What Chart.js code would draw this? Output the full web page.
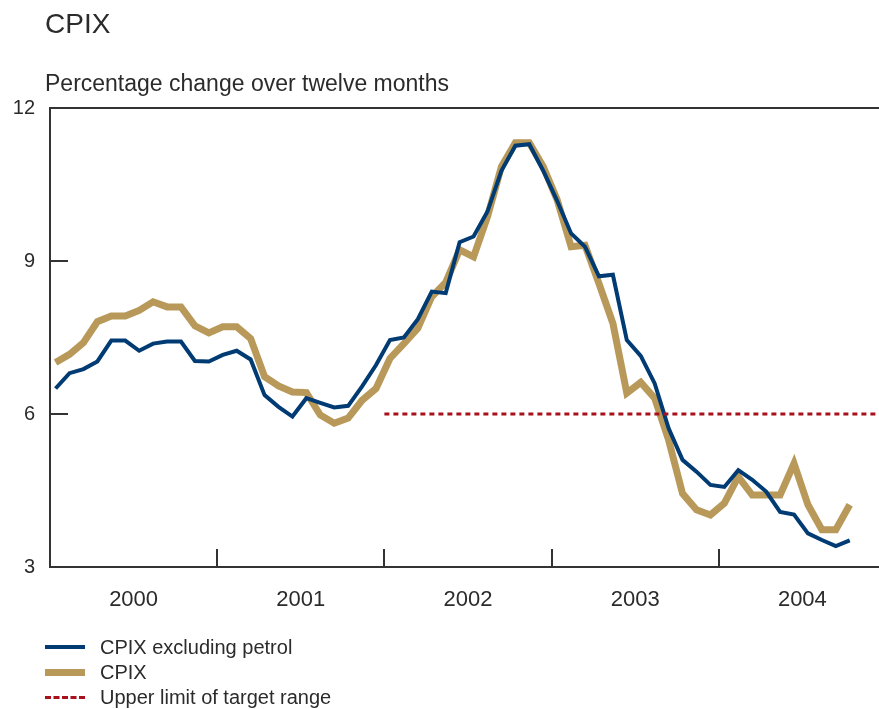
<!DOCTYPE html>
<html>
<head>
<meta charset="utf-8">
<script src="https://cdn.jsdelivr.net/npm/chart.js@4"></script>
<style>
  body { margin: 0; background: #fff; }
  #wrap { position: relative; width: 879px; height: 709px; font-family: 'Liberation Sans', Arial, sans-serif; color: #2b2b2b; }
  #wrap canvas { position: absolute; left: 0; top: 0; }
  .txt { position: absolute; white-space: nowrap; }
  #title { left: 45px; top: 8px; font-size: 28px; }
  #subtitle { left: 45px; top: 70px; font-size: 23px; }
  .leg { position: absolute; left: 45px; width: 400px; white-space: nowrap; font-size: 20px; height: 24px; line-height: 24px; }
  .leg span.swatch { position: absolute; left: 0; top: 12px; width: 40px; }
  .leg span.lab { position: absolute; left: 55px; top: 0; }
</style>
</head>
<body>
<div id="wrap">
  <canvas id="cpixChart" width="879" height="709"></canvas>
  <div class="txt" id="title">CPIX</div>
  <div class="txt" id="subtitle">Percentage change over twelve months</div>
  <div class="leg" style="top:635px"><span class="swatch" style="border-top:4px solid #003b73;margin-top:-2px"></span><span class="lab">CPIX excluding petrol</span></div>
  <div class="leg" style="top:660px"><span class="swatch" style="border-top:7px solid #b8995a;margin-top:-3px"></span><span class="lab">CPIX</span></div>
  <div class="leg" style="top:685px"><span class="swatch" style="border-top:3px dashed #a8111c;margin-top:-1px"></span><span class="lab">Upper limit of target range</span></div>
</div>
<script>
// monthly data, Jan 2000 .. Oct 2004
const years = ['2000', '2001', '2002', '2003', '2004'];

const cpixExPetrol = [
    6.50, 6.80, 6.88, 7.03, 7.44, 7.44, 7.24, 7.38, 7.42, 7.42, 7.04, 7.03,
    7.16, 7.24, 7.07, 6.37, 6.14, 5.95, 6.31, 6.22, 6.13, 6.16, 6.54, 6.96,
    7.45, 7.50, 7.86, 8.40, 8.37, 9.37, 9.48, 9.97, 10.77, 11.26, 11.29, 10.77,
    10.18, 9.54, 9.28, 8.70, 8.73, 7.45, 7.14, 6.60, 5.72, 5.10, 4.87, 4.61,
    4.57, 4.90, 4.71, 4.48, 4.08, 4.03, 3.66, 3.53, 3.41, 3.52
];

const cpix = [
    7.01, 7.17, 7.40, 7.81, 7.92, 7.92, 8.03, 8.20, 8.10, 8.10, 7.73, 7.59,
    7.71, 7.71, 7.48, 6.73, 6.55, 6.43, 6.42, 5.98, 5.82, 5.92, 6.27, 6.50,
    7.09, 7.38, 7.68, 8.30, 8.58, 9.22, 9.08, 9.87, 10.85, 11.32, 11.32, 10.85,
    10.20, 9.28, 9.31, 8.56, 7.78, 6.41, 6.62, 6.31, 5.49, 4.44, 4.12, 4.02,
    4.25, 4.77, 4.41, 4.41, 4.41, 5.03, 4.22, 3.73, 3.73, 4.22
];

// upper limit of the inflation target, from 2002 onwards
const targetValue = 6;
const targetFromYear = '2002';

const yTicks = [3, 6, 9, 12];

// month index 0 = Jan 2000; year boundaries sit a bit before each January point
const shift = -0.4;
const xMin = shift;
const xMax = 59.1;
const yearStart = k => 12 * k + shift;

const toPoints = arr => arr.map((v, i) => ({ x: i, y: v }));

const insideTicks = {
    id: 'insideTicks',
    afterDatasetsDraw(chart) {
        const { ctx, chartArea, scales } = chart;
        ctx.save();
        ctx.strokeStyle = '#333';
        ctx.lineWidth = 2;
        ctx.beginPath();
        ctx.moveTo(chartArea.left - 1, chartArea.top);
        ctx.lineTo(chartArea.right, chartArea.top);
        // year boundary ticks
        for (let k = 1; k < years.length; k++) {
            const px = Math.round(scales.x.getPixelForValue(yearStart(k)));
            ctx.moveTo(px, chartArea.bottom);
            ctx.lineTo(px, chartArea.bottom - 18);
        }
        // inner y ticks
        yTicks.slice(1, -1).forEach(v => {
            const py = Math.round(scales.y.getPixelForValue(v));
            ctx.moveTo(chartArea.left, py);
            ctx.lineTo(chartArea.left + 18, py);
        });
        ctx.stroke();
        ctx.restore();
    }
};

const fontFam = "'Liberation Sans', Arial, sans-serif";

new Chart(document.getElementById('cpixChart'), {
    type: 'line',
    data: {
        datasets: [
            {
                label: 'Upper limit of target range',
                data: [{ x: yearStart(years.indexOf(targetFromYear)), y: targetValue }, { x: xMax, y: targetValue }],
                borderColor: '#a8111c', borderWidth: 3, borderDash: [5, 4], pointRadius: 0
            },
            {
                label: 'CPIX excluding petrol',
                data: toPoints(cpixExPetrol),
                borderColor: '#003b73', borderWidth: 4, pointRadius: 0, tension: 0
            },
            {
                label: 'CPIX',
                data: toPoints(cpix),
                borderColor: '#b8995a', borderWidth: 7, pointRadius: 0, tension: 0
            }
        ]
    },
    options: {
        responsive: false,
        animation: false,
        devicePixelRatio: 1,
        layout: { padding: { top: 108, left: 0, right: 0, bottom: 0 } },
        plugins: { legend: { display: false }, tooltip: { enabled: false } },
        scales: {
            x: {
                type: 'linear', min: xMin, max: xMax,
                grid: { display: false, drawTicks: false },
                border: { display: true, color: '#333', width: 2 },
                afterBuildTicks: scale => { scale.ticks = years.map((y, k) => ({ value: yearStart(k) + 6 })); },
                afterFit: scale => { scale.height = 142; },
                ticks: {
                    autoSkip: false, maxRotation: 0, padding: 20,
                    color: '#2b2b2b', font: { family: fontFam, size: 22 },
                    callback: (value, index) => years[index]
                }
            },
            y: {
                min: 3, max: 12,
                grid: { display: false, drawTicks: false },
                border: { display: true, color: '#333', width: 2 },
                afterBuildTicks: scale => { scale.ticks = yTicks.map(v => ({ value: v })); },
                afterFit: scale => { scale.width = 50; },
                ticks: { padding: 15, color: '#2b2b2b', font: { family: fontFam, size: 20 } }
            }
        }
    },
    plugins: [insideTicks]
});
</script>
</body>
</html>
